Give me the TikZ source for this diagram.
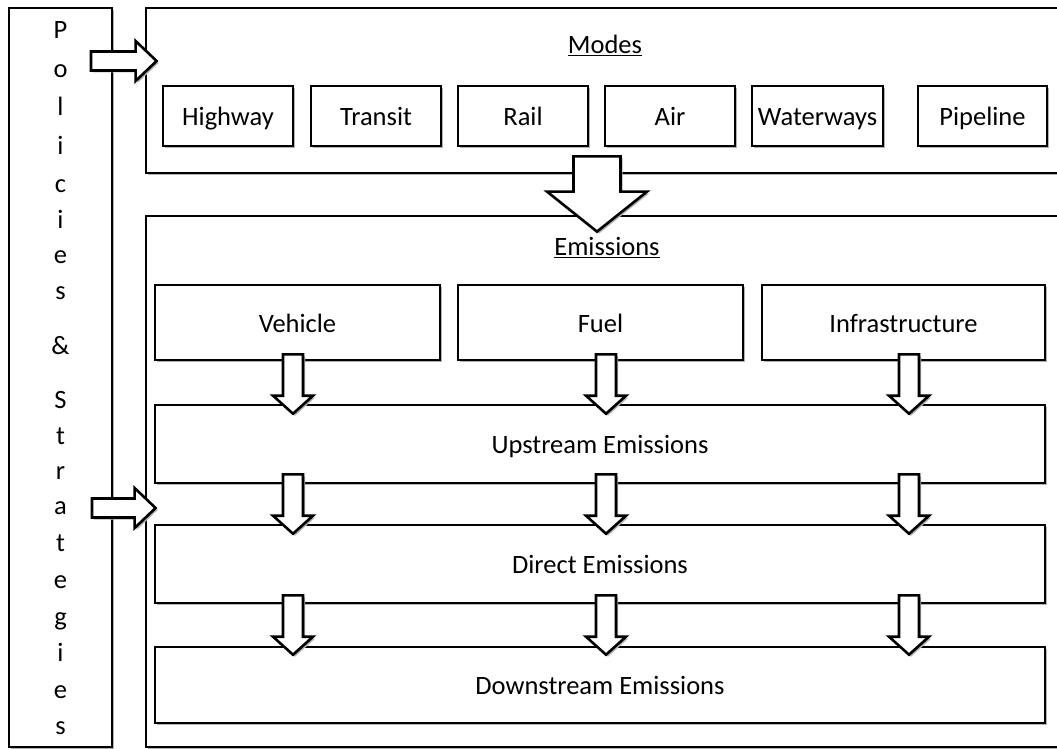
\documentclass[tikz,border=0pt]{standalone}
\usepackage{fontspec}
\setmainfont{Carlito}
\usetikzlibrary{calc,shadows}

% outline and shadow shared by boxes and block arrows
\tikzset{
  x=1pt, y=-1pt,
  every node/.style={font=\fontsize{26.5}{30}\selectfont, inner sep=0pt},
  shade/.style={drop shadow={shadow xshift=2pt, shadow yshift=-2pt, fill=black!30, opacity=1}},
  box/.style={draw=black, line width=2.6pt, fill=white, shade, rectangle,
              text height=19pt, text depth=0pt},
  frame/.style={draw=black, line width=2.8pt, fill=white, shade},
  blk/.style={draw=black, line width=2.6pt, fill=white, shade, line join=miter},
  letter/.style={anchor=base},
  heading/.style={text height=19pt, text depth=0pt},
}

% vertical block arrow: shaft half width, head half width, head length, tail point, tip point
\newcommand\vblock[5]{%
  \draw[blk] let \p1=#4, \p2=#5 in
    (\x2-#1pt,\y1) -- (\x2+#1pt,\y1) -- (\x2+#1pt,\y2+#3pt) -- (\x2+#2pt,\y2+#3pt)
    -- (\x2,\y2) -- (\x2-#2pt,\y2+#3pt) -- (\x2-#1pt,\y2+#3pt) -- cycle;}
% horizontal block arrow pointing right: tail point, tip point
\newcommand\hblock[2]{%
  \draw[blk] let \p1=#1, \p2=#2 in
    (\x1,\y2+9.5pt) -- (\x2-21pt,\y2+9.5pt) -- (\x2-21pt,\y2+20pt) -- (\x2,\y2)
    -- (\x2-21pt,\y2-20pt) -- (\x2-21pt,\y2-9.5pt) -- (\x1,\y2-9.5pt) -- cycle;}

\begin{document}
\begin{tikzpicture}
\useasboundingbox (0,0) rectangle (1057,749);
\clip (0,0) rectangle (1057,749);
\fill[white] (0,0) rectangle (1057,749);

% outer frames
\node[frame, minimum width=103pt, minimum height=739pt] (pol) at (60.5,377.5) {};
\node[frame, minimum width=930pt, minimum height=165pt] (modes) at (611,90.5) {};
\node[frame, minimum width=930pt, minimum height=531pt] (emis) at (611,481.5) {};

% vertical title of the policy frame
\foreach \c/\yy [count=\i] in {P/33,o/72,l/110,i/148,c/186,i/222,e/257,s/293,\&/348,
    S/402,t/438,r/473,a/508,t/545,e/582,g/619,i/655,e/692,s/728}
  \node[letter] (ps\i) at (60.5,\yy+6) {\c};

% modes
\node[heading] (modeslbl) at (605,44) {\underline{Modes}};
\node[box, minimum width=130pt, minimum height=60pt] (hw)   at (228,116)   {Highway};
\node[box, minimum width=130pt, minimum height=60pt] (tr)   at (376,116)   {Transit};
\node[box, minimum width=130pt, minimum height=60pt] (rail) at (523,116)   {Rail};
\node[box, minimum width=130pt, minimum height=60pt] (air)  at (670,116)   {Air};
\node[box, minimum width=131pt, minimum height=60pt] (ww)   at (817.5,116) {Waterways};
\node[box, minimum width=129pt, minimum height=60pt] (pipe) at (982.5,116) {Pipeline};

% emissions
\node[heading] (emislbl) at (607,246) {\underline{Emissions}};
\node[box, minimum width=285pt, minimum height=75pt] (veh)   at (297.5,322.5) {Vehicle};
\node[box, minimum width=285pt, minimum height=75pt] (fuel)  at (600.5,322.5) {Fuel};
\node[box, minimum width=283pt, minimum height=75pt] (infra) at (903.5,322.5) {Infrastructure};
\node[box, minimum width=890pt, minimum height=78pt] (up)    at (600,444)     {Upstream Emissions};
\node[box, minimum width=890pt, minimum height=78pt] (dir)   at (600,564)     {Direct Emissions};
\node[box, minimum width=890pt, minimum height=76pt] (down)  at (600,685)     {Downstream Emissions};

% arrow columns
\coordinate (cA) at (293,0);
\coordinate (cB) at (606,0);
\coordinate (cC) at (909,0);

% modes feed the emissions
\vblock{23.5}{50}{40}{($(modes.south)+(0,-18)$)}{($(emis.north -| 597,0)+(0,17)$)}

% emission stages
\foreach \col/\src in {cA/veh, cB/fuel, cC/infra} {
  \vblock{10}{20}{18}{($(\src.south)+(0,-7)$)}{($(up.north -| \col)+(0,10)$)}
}
\foreach \col in {cA, cB, cC} {
  \vblock{10}{20}{18}{($(up.south -| \col)+(0,-10)$)}{($(dir.north -| \col)+(0,10)$)}
  \vblock{10}{20}{18}{($(dir.south -| \col)+(0,-9)$)}{($(down.north -| \col)+(0,9)$)}
}

% policies act on modes and on emissions
\coordinate (p1) at (91,61);
\coordinate (p2) at (92,508);
\hblock{(p1)}{($(modes.west |- p1)+(12,0)$)}
\hblock{(p2)}{($(emis.west |- p2)+(11,0)$)}
\end{tikzpicture}
\end{document}
